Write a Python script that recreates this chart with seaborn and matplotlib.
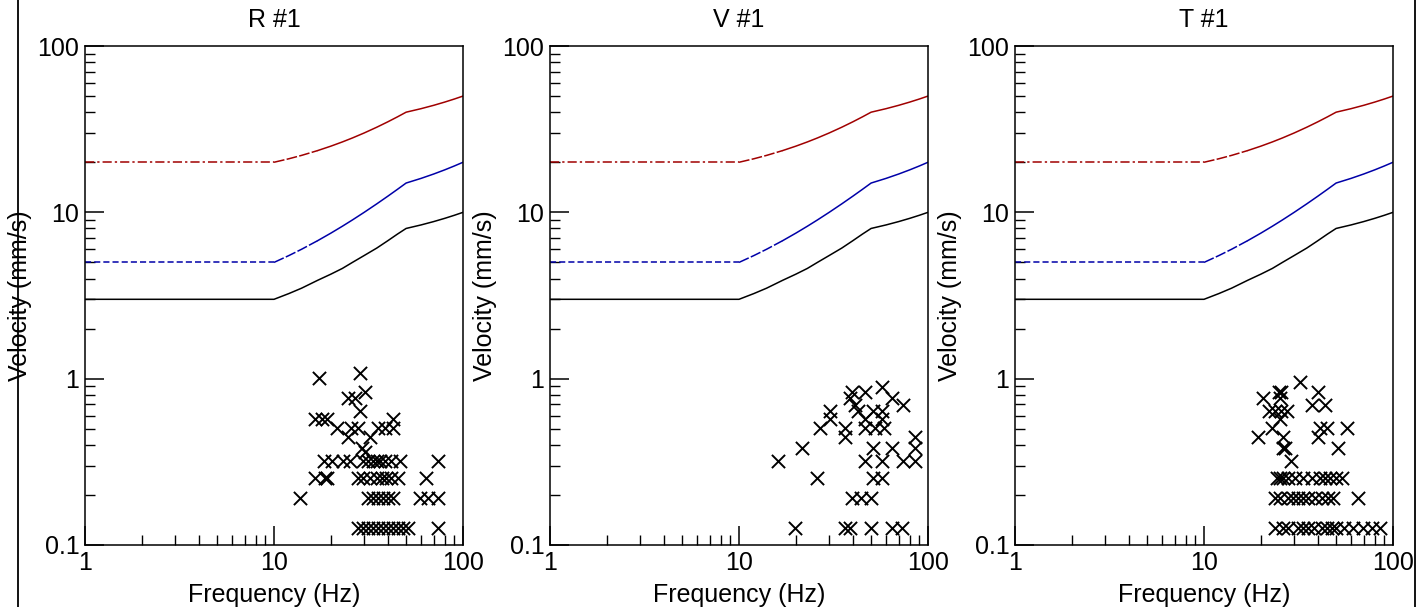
import numpy as np
import pandas as pd
import seaborn as sns
import matplotlib.pyplot as plt
from matplotlib.lines import Line2D
from matplotlib.ticker import FixedLocator, NullFormatter

# guideline curves (frequency in Hz, velocity in mm/s)
line_freq = [1, 10, 12, 14, 17, 20, 23, 26, 30, 35, 40, 45, 50, 60, 70, 80, 90, 100]
line1_vel = [3, 3, 3.25, 3.5, 3.9, 4.25, 4.6, 5.0, 5.5, 6.1, 6.75, 7.4, 8, 8.4, 8.8, 9.2, 9.6, 10]
line2_vel = [5, 5, 5.5, 6.0, 6.75, 7.5, 8.25, 9.0, 10, 11.25, 12.5, 13.75, 15, 16, 17, 18, 19, 20]
line3_vel = [20, 20, 21, 22, 23.5, 25, 26.5, 28, 30, 32.5, 35, 37.5, 40, 42, 44, 46, 48, 50]

panel_titles = ['R #1', 'V #1', 'T #1']

# measured peaks, one list pair per component
r_freq = [28.5, 17.2, 30.3, 24.7, 26.8, 28.5,
          16.5, 17.9, 19.0, 42.7,
          21.5, 25.7, 27.9, 35.7, 38.6, 42.7,
          24.7, 32.2, 29.1, 30.3,
          18.3, 20.2, 23.3, 25.3, 29.7, 31.6, 33.6, 34.9, 36.3, 38.6, 41.7, 46.4, 74,
          16.5, 18.6, 19.0, 27.9, 29.7, 32.2, 34.9, 37.1, 39.3, 41.7, 45.5, 64.1,
          13.7, 31.6, 33.6, 35.7, 37.8, 40.2, 42.7, 59.2, 65.5, 74,
          27.9, 29.7, 31.6, 33.6, 35.7, 37.8, 40.2, 42.7, 45.5, 48.3, 51.4, 74]
r_vel = [1.08, 1.016, 0.826, 0.762, 0.762, 0.635,
         0.572, 0.572, 0.572, 0.572,
         0.508, 0.508, 0.508, 0.508, 0.508, 0.508,
         0.445, 0.445, 0.381, 0.36,
         0.318, 0.318, 0.318, 0.318, 0.318, 0.318, 0.318, 0.318, 0.318, 0.318, 0.318, 0.318, 0.318,
         0.254, 0.254, 0.254, 0.254, 0.254, 0.254, 0.254, 0.254, 0.254, 0.254, 0.254, 0.254,
         0.191, 0.191, 0.191, 0.191, 0.191, 0.191, 0.191, 0.191, 0.191, 0.191,
         0.127, 0.127, 0.127, 0.127, 0.127, 0.127, 0.127, 0.127, 0.127, 0.127, 0.127, 0.127]

v_freq = [56.9, 39.5, 46.4, 38.6, 64.3, 41.1, 74,
          30.3, 42.7, 51.4, 56.9,
          30.3, 46.4, 56.9,
          26.8, 36.3, 46.4, 52.4, 58.2,
          36.3, 85.3,
          21.5, 51.4, 64.3, 85.3,
          16.1, 46.4, 56.9, 74, 85.3,
          25.8, 51.4, 56.9,
          39.5, 44.3, 50.1,
          19.8, 36.3, 38.6, 50.1, 64.3, 72.9]
v_vel = [0.889, 0.826, 0.826, 0.762, 0.762, 0.699, 0.699,
         0.635, 0.635, 0.635, 0.635,
         0.572, 0.572, 0.572,
         0.508, 0.508, 0.508, 0.508, 0.508,
         0.445, 0.445,
         0.381, 0.381, 0.381, 0.381,
         0.318, 0.318, 0.318, 0.318, 0.318,
         0.254, 0.254, 0.254,
         0.191, 0.191, 0.191,
         0.127, 0.127, 0.127, 0.127, 0.127, 0.127]

t_freq = [32.2, 24.8, 25.6, 40.2, 20.5, 25.3, 37.1, 43.7,
          22.1, 23.7, 25.6, 27.4, 25.3,
          22.8, 41.1, 44.7, 56.9,
          19.4, 26.3, 40.2,
          26.3, 26.9, 51.4, 28.9,
          24.2, 25.3, 26.3, 27.9, 30.3, 33.6, 37.1, 41.1, 43.7, 46.4, 50.1, 53.7,
          23.7, 25.3, 27.9, 29.7, 31.6, 33.6, 35.7, 38.6, 42.0, 45.5, 48.3, 65.5,
          23.7, 26.3, 27.9, 31.6, 33.6, 35.7, 38.0, 42.0, 44.7, 47.5, 50.1, 54.8, 61.5, 69.3, 77.8, 85.8]
t_vel = [0.953, 0.826, 0.826, 0.826, 0.762, 0.762, 0.699, 0.699,
         0.635, 0.635, 0.635, 0.635, 0.572,
         0.508, 0.508, 0.508, 0.508,
         0.445, 0.445, 0.445,
         0.381, 0.381, 0.381, 0.318,
         0.254, 0.254, 0.254, 0.254, 0.254, 0.254, 0.254, 0.254, 0.254, 0.254, 0.254, 0.254,
         0.191, 0.191, 0.191, 0.191, 0.191, 0.191, 0.191, 0.191, 0.191, 0.191, 0.191, 0.191,
         0.127, 0.127, 0.127, 0.127, 0.127, 0.127, 0.127, 0.127, 0.127, 0.127, 0.127, 0.127, 0.127, 0.127, 0.127, 0.127]

points = [(r_freq, r_vel), (v_freq, v_vel), (t_freq, t_vel)]

sns.set_style('ticks')
plt.rcParams['font.family'] = ['Liberation Sans', 'DejaVu Sans']
plt.rcParams['font.size'] = 18
plt.rcParams['text.color'] = 'black'
plt.rcParams['axes.labelcolor'] = 'black'
plt.rcParams['xtick.color'] = 'black'
plt.rcParams['ytick.color'] = 'black'

fig = plt.figure(figsize=(14.22, 6.07), dpi=100)
W, H = 1422, 607
lefts = [85, 550, 1015]

guide = pd.DataFrame({'freq': line_freq, 'l1': line1_vel, 'l2': line2_vel, 'l3': line3_vel})
flat = guide[guide['freq'] <= 10]
ramp = guide[(guide['freq'] >= 10) & (guide['freq'] <= 17)]
slope = guide[guide['freq'] >= 17]

for i, left in enumerate(lefts):
    ax = fig.add_axes([left / W, (H - 545) / H, 378 / W, 499 / H])
    ax.set_xscale('log')
    ax.set_yscale('log')

    # guideline curves
    sns.lineplot(data=flat, x='freq', y='l3', ax=ax, color='#a00000', lw=1.1,
                 linestyle=(0, (6, 2, 1.5, 2)), estimator=None, sort=False)
    sns.lineplot(data=ramp, x='freq', y='l3', ax=ax, color='#a00000', lw=1.1,
                 linestyle=(0, (7, 1.5)), estimator=None, sort=False)
    sns.lineplot(data=slope, x='freq', y='l3', ax=ax, color='#a00000', lw=1.1,
                 estimator=None, sort=False)
    sns.lineplot(data=flat, x='freq', y='l2', ax=ax, color='#0000a8', lw=1.1,
                 linestyle=(0, (4, 2)), estimator=None, sort=False)
    sns.lineplot(data=ramp, x='freq', y='l2', ax=ax, color='#0000a8', lw=1.1,
                 linestyle=(0, (7, 1.5)), estimator=None, sort=False)
    sns.lineplot(data=slope, x='freq', y='l2', ax=ax, color='#0000a8', lw=1.1,
                 estimator=None, sort=False)
    sns.lineplot(data=guide, x='freq', y='l1', ax=ax, color='black', lw=1.1,
                 estimator=None, sort=False)

    fx, fy = points[i]
    sns.scatterplot(x=fx, y=fy, ax=ax, marker='x', color='black', s=90, linewidth=1.4)

    ax.set_xlim(1, 100)
    ax.set_ylim(0.1, 100)
    ax.set_xticks([1, 10, 100])
    ax.set_xticklabels(['1', '10', '100'])
    ax.set_yticks([0.1, 1, 10, 100])
    ax.set_yticklabels(['0.1', '1', '10', '100'])
    minor_x = [m * d for d in (1, 10) for m in range(2, 10)]
    minor_y = [m * d for d in (0.1, 1, 10) for m in range(2, 10)]
    ax.xaxis.set_minor_locator(FixedLocator(minor_x))
    ax.yaxis.set_minor_locator(FixedLocator(minor_y))
    ax.xaxis.set_minor_formatter(NullFormatter())
    ax.yaxis.set_minor_formatter(NullFormatter())
    ax.tick_params(which='major', direction='in', length=14, width=1.1,
                   labelsize=18, pad=4, top=False, right=False)
    ax.tick_params(which='minor', direction='in', length=7, width=1.0,
                   top=False, right=False)
    for sp in ax.spines.values():
        sp.set_visible(True)
        sp.set_linewidth(1.1)
        sp.set_color('black')

    ax.set_title(panel_titles[i], fontsize=18, pad=14)
    ax.set_xlabel('Frequency (Hz)', fontsize=18, labelpad=6)
    ax.set_ylabel('Velocity (mm/s)', fontsize=18)
    ax.yaxis.set_label_coords(-53 / 378, 0.5)

fig.add_artist(Line2D([18 / W, 18 / W], [0, 1], transform=fig.transFigure, color='black', lw=1.3))
fig.add_artist(Line2D([1415 / W, 1415 / W], [0, 1], transform=fig.transFigure, color='black', lw=1.3))

fig.savefig('out.png', dpi=100)
